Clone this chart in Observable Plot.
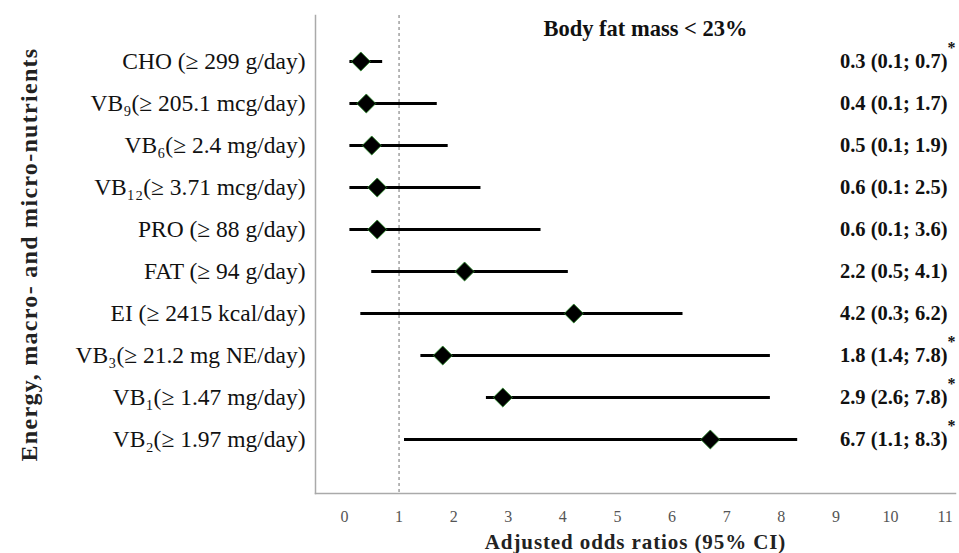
<!DOCTYPE html>
<html>
<head>
<meta charset="utf-8">
<script src="https://cdn.jsdelivr.net/npm/d3@7"></script>
<script src="https://cdn.jsdelivr.net/npm/@observablehq/plot@0.6"></script>
<style>
  html, body { margin: 0; padding: 0; background: #fff; }
  #chart svg { font-family: "Liberation Serif", serif; }
  g[aria-label="x-axis tick label"] text { fill: #555; }
  g[aria-label="x-axis label"] text { font-weight: bold; font-size: 21px; fill: #222; letter-spacing: 0.9px; }
  g[aria-label="y-axis label"] text { font-weight: bold; font-size: 24px; fill: #222; letter-spacing: 1.3px; }
  g[aria-label="y-axis tick label"] text { fill: #111; }
</style>
</head>
<body>
<div id="chart"></div>
<script>
const labels = [
  "CHO (≥ 299 g/day)",
  "VB₉(≥ 205.1 mcg/day)",
  "VB₆(≥ 2.4 mg/day)",
  "VB₁₂(≥ 3.71 mcg/day)",
  "PRO (≥ 88 g/day)",
  "FAT (≥ 94 g/day)",
  "EI (≥ 2415 kcal/day)",
  "VB₃(≥ 21.2 mg NE/day)",
  "VB₁(≥ 1.47 mg/day)",
  "VB₂(≥ 1.97 mg/day)"
];
const oddsRatio = [0.3, 0.4, 0.5, 0.6, 0.6, 2.2, 4.2, 1.8, 2.9, 6.7];
const ciLow     = [0.1, 0.1, 0.1, 0.1, 0.1, 0.5, 0.3, 1.4, 2.6, 1.1];
const ciHigh    = [0.7, 1.7, 1.9, 2.5, 3.6, 4.1, 6.2, 7.8, 7.8, 8.3];
const ciText = [
  "0.3 (0.1; 0.7)", "0.4 (0.1; 1.7)", "0.5 (0.1; 1.9)", "0.6 (0.1: 2.5)", "0.6 (0.1; 3.6)",
  "2.2 (0.5; 4.1)", "4.2 (0.3; 6.2)", "1.8 (1.4; 7.8)", "2.9 (2.6; 7.8)", "6.7 (1.1; 8.3)"
];
const significant = [true, false, false, false, false, false, false, true, true, true];
const xTicks = [0, 1, 2, 3, 4, 5, 6, 7, 8, 9, 10, 11];
const title = "Body fat mass < 23%";
const xTitle = "Adjusted odds ratios (95% CI)";
const yTitle = "Energy, macro- and micro-nutrients";

const rows = labels.map((label, i) => ({
  label, or: oddsRatio[i], lo: ciLow[i], hi: ciHigh[i], text: ciText[i], sig: significant[i]
}));

const chart = Plot.plot({
  width: 959,
  height: 553,
  marginLeft: 315,
  marginRight: 4,
  marginTop: 15,
  marginBottom: 60,
  style: { fontFamily: "Liberation Serif, serif", background: "#fff", color: "#111" },
  x: { domain: [-0.53, 11.19] },
  y: { type: "point", domain: labels, range: [60, 440], padding: 0 },
  marks: [
    Plot.ruleX([1], { stroke: "#888", strokeWidth: 1.2, strokeDasharray: "3,3" }),
    Plot.frame({ anchor: "left", stroke: "#aaa", strokeWidth: 1.5 }),
    Plot.frame({ anchor: "bottom", stroke: "#aaa", strokeWidth: 1.5 }),
    Plot.axisX(xTicks, {
      tickSize: 0, tickPadding: 17, fontSize: 16,
      label: xTitle, labelAnchor: "center", labelOffset: 55, labelArrow: "none"
    }),
    Plot.axisY({
      tickSize: 0, tickPadding: 10, fontSize: 23.5,
      label: yTitle, labelAnchor: "center", labelOffset: 296, labelArrow: "none"
    }),
    Plot.ruleY(rows, { y: "label", x1: "lo", x2: "hi", stroke: "#000", strokeWidth: 2.8 }),
    Plot.dot(rows, {
      x: "or", y: "label", symbol: "square", rotate: 45, r: 7.6,
      fill: "#000", stroke: "#2e8b2e", strokeWidth: 0.8
    }),
    Plot.text(rows, {
      y: "label", text: "text", frameAnchor: "right", dx: -8, textAnchor: "end",
      fontSize: 20.5, fontWeight: "bold", fill: "#111"
    }),
    Plot.text(rows.filter(d => d.sig), {
      y: "label", text: () => "*", frameAnchor: "right", dx: -8, dy: -14, textAnchor: "start",
      fontSize: 16, fontWeight: "bold", fill: "#111"
    }),
    Plot.text([title], {
      frameAnchor: "top", dx: 10, dy: 5, lineAnchor: "top",
      fontSize: 22.5, fontWeight: "bold", fill: "#111"
    })
  ]
});
document.getElementById("chart").appendChild(chart);
</script>
</body>
</html>
